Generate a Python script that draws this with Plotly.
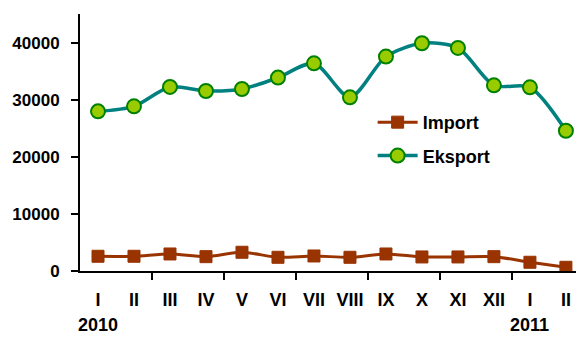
import plotly.graph_objects as go

months = ["I", "II", "III", "IV", "V", "VI", "VII", "VIII", "IX", "X", "XI", "XII", "I", "II"]
import_vals = [2580, 2580, 2980, 2510, 3280, 2400, 2630, 2400, 2980, 2460, 2460, 2510, 1530, 650]
eksport_vals = [27950, 28830, 32230, 31520, 31870, 33860, 36370, 30410, 37540, 39880, 39060, 32510, 32160, 24560]
years = ["2010", "2011"]
year_pos = [0, 12]
y_ticks = [0, 10000, 20000, 30000, 40000]

x = list(range(len(months)))
FONT = "Liberation Sans, Arial, sans-serif"

fig = go.Figure()
fig.add_trace(go.Scatter(
    x=x, y=import_vals, name="Import", mode="lines+markers", legendgroup="a",
    line=dict(color="#993300", width=3, shape="spline", smoothing=0.8),
    marker=dict(symbol="square", size=12, color="#993300", line=dict(color="#993300", width=1)),
))
fig.add_trace(go.Scatter(
    x=x, y=eksport_vals, name="Eksport", mode="lines+markers", legendgroup="b",
    line=dict(color="#008080", width=3.5, shape="spline", smoothing=0.8),
    marker=dict(symbol="circle", size=14, color="#99CC00", line=dict(color="#008000", width=2)),
))
# invisible trace on overlay axis for month labels
fig.add_trace(go.Scatter(x=x, y=[None]*len(x), xaxis="x2", showlegend=False, hoverinfo="skip"))

xrange = [-0.5, 13.28]
fig.update_layout(
    width=576, height=337,
    margin=dict(l=80, r=0, t=14, b=66, autoexpand=False),
    paper_bgcolor="white", plot_bgcolor="white",
    font=dict(family=FONT, size=18, color="black", weight="bold"),
    xaxis=dict(
        range=xrange, showgrid=False, zeroline=False, automargin=False,
        showline=True, linecolor="black", linewidth=2,
        tickmode="array", tickvals=[1.5, 3.5, 5.5, 7.5, 9.5, 11.5, 13.5],
        ticks="outside", ticklen=7, tickwidth=2, tickcolor="black",
        showticklabels=False,
    ),
    xaxis2=dict(
        range=xrange, overlaying="x", side="bottom", anchor="y", automargin=False,
        showgrid=False, zeroline=False, showline=False,
        tickmode="array", tickvals=x, ticktext=months, ticks="",
        ticklabelstandoff=16,
        tickfont=dict(family=FONT, size=18, color="black", weight="bold"),
    ),
    yaxis=dict(
        range=[0, 45000], showgrid=False, zeroline=False, automargin=False,
        showline=True, linecolor="black", linewidth=2,
        tickmode="array", tickvals=y_ticks, ticktext=[str(v) for v in y_ticks],
        ticks="outside", ticklen=7, tickwidth=2, tickcolor="black",
        ticklabelstandoff=8,
        tickfont=dict(family=FONT, size=17, color="black", weight="bold"),
    ),
    legend=dict(
        x=0.59, y=0.65, xanchor="left", yanchor="top",
        bgcolor="rgba(0,0,0,0)",
        font=dict(family=FONT, size=18, color="black", weight="bold"),
        tracegroupgap=7, itemwidth=40,
    ),
)
for yr, pos in zip(years, year_pos):
    fig.add_annotation(x=pos, y=-0.21, xref="x", yref="paper", text=yr,
                       showarrow=False, yanchor="middle",
                       font=dict(family=FONT, size=18, color="black", weight="bold"))

fig.write_html("out.html", config={"displayModeBar": False},
               post_script="document.body.style.margin='0';")
